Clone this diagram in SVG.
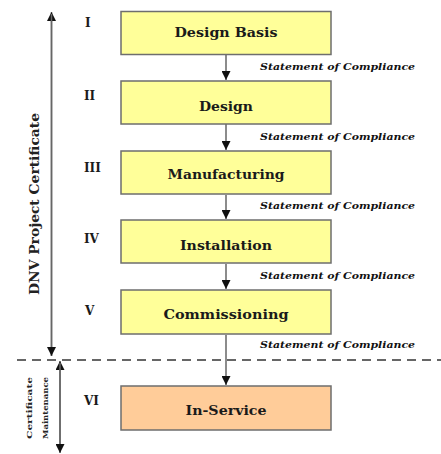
<svg xmlns="http://www.w3.org/2000/svg" width="441" height="454" viewBox="0 0 441 454">
<style>
.box{fill:#FFFF99;stroke:#6e6e6e;stroke-width:1.5}
.svc{fill:#FFCC99;stroke:#6e6e6e;stroke-width:1.5}
.lbl{font-family:"DejaVu Serif","Liberation Serif",serif;font-weight:bold;font-size:13px;fill:#1a1a1a;text-anchor:middle}
.num{font-family:"DejaVu Serif","Liberation Serif",serif;font-weight:bold;font-size:12px;fill:#1a1a1a}
.soc{font-family:"DejaVu Serif","Liberation Serif",serif;font-weight:bold;font-style:italic;font-size:10px;fill:#111}
.conn{stroke:#666;stroke-width:1.5;fill:none}
.side{font-family:"DejaVu Serif","Liberation Serif",serif;font-weight:bold;font-size:13px;fill:#222;text-anchor:middle}
.side2{font-family:"DejaVu Serif","Liberation Serif",serif;font-weight:bold;font-size:8px;fill:#222;text-anchor:middle}
</style>
<defs>
<marker id="ah" viewBox="0 0 10 10" refX="10" refY="5" markerWidth="9" markerHeight="9" markerUnits="userSpaceOnUse" orient="auto">
<path d="M0,0 L10,5 L0,10 z" fill="#111"/>
</marker>
</defs>
<g id="connectors">
<line class="conn" x1="226" y1="55" x2="226" y2="80" marker-end="url(#ah)"/>
<line class="conn" x1="226" y1="124" x2="226" y2="150" marker-end="url(#ah)"/>
<line class="conn" x1="226" y1="195" x2="226" y2="219" marker-end="url(#ah)"/>
<line class="conn" x1="226" y1="264" x2="226" y2="289" marker-end="url(#ah)"/>
<line class="conn" x1="226" y1="335" x2="226" y2="385" marker-end="url(#ah)"/>
<line class="conn" x1="51.5" y1="356" x2="51.5" y2="12" marker-end="url(#ah)"/>
<line class="conn" x1="51.5" y1="14" x2="51.5" y2="356" marker-end="url(#ah)"/>
<line class="conn" x1="60" y1="452" x2="60" y2="361" marker-end="url(#ah)"/>
<line class="conn" x1="60" y1="363" x2="60" y2="453" marker-end="url(#ah)"/>
<line x1="17" y1="360" x2="441" y2="360" stroke="#666" stroke-width="2" stroke-dasharray="9,6"/>
</g>
<g id="soc">
<text class="soc" x="260" y="70" textLength="155" lengthAdjust="spacingAndGlyphs">Statement of Compliance</text>
<text class="soc" x="260" y="140" textLength="155" lengthAdjust="spacingAndGlyphs">Statement of Compliance</text>
<text class="soc" x="260" y="209" textLength="155" lengthAdjust="spacingAndGlyphs">Statement of Compliance</text>
<text class="soc" x="260" y="279" textLength="155" lengthAdjust="spacingAndGlyphs">Statement of Compliance</text>
<text class="soc" x="260" y="348" textLength="155" lengthAdjust="spacingAndGlyphs">Statement of Compliance</text>
</g>
<g id="node-I">
<rect class="box" x="121" y="11.5" width="210" height="43"/>
<text class="lbl" x="226" y="37" textLength="103" lengthAdjust="spacingAndGlyphs">Design Basis</text>
<text class="num" x="85" y="27">I</text>
</g>
<g id="node-II">
<rect class="box" x="121" y="81" width="210" height="43"/>
<text class="lbl" x="226" y="111" textLength="54" lengthAdjust="spacingAndGlyphs">Design</text>
<text class="num" x="84" y="100">II</text>
</g>
<g id="node-III">
<rect class="box" x="121" y="151" width="210" height="43"/>
<text class="lbl" x="226" y="179" textLength="117" lengthAdjust="spacingAndGlyphs">Manufacturing</text>
<text class="num" x="84" y="172">III</text>
</g>
<g id="node-IV">
<rect class="box" x="121" y="220" width="210" height="43"/>
<text class="lbl" x="226" y="250" textLength="92" lengthAdjust="spacingAndGlyphs">Installation</text>
<text class="num" x="84" y="243">IV</text>
</g>
<g id="node-V">
<rect class="box" x="121" y="290" width="210" height="44"/>
<text class="lbl" x="226" y="319" textLength="125" lengthAdjust="spacingAndGlyphs">Commissioning</text>
<text class="num" x="85" y="315">V</text>
</g>
<g id="node-VI">
<rect class="svc" x="121" y="386" width="210" height="44"/>
<text class="lbl" x="226" y="415" textLength="81" lengthAdjust="spacingAndGlyphs">In-Service</text>
<text class="num" x="84" y="405">VI</text>
</g>
<g id="side-labels">
<text class="side" transform="translate(39,204) rotate(-90)" textLength="182" lengthAdjust="spacingAndGlyphs">DNV Project Certificate</text>
<text class="side2" transform="translate(32,408) rotate(-90)" textLength="62" lengthAdjust="spacingAndGlyphs">Certificate</text>
<text class="side2" transform="translate(48,408) rotate(-90)" textLength="62" lengthAdjust="spacingAndGlyphs">Maintenance</text>
</g>
</svg>
